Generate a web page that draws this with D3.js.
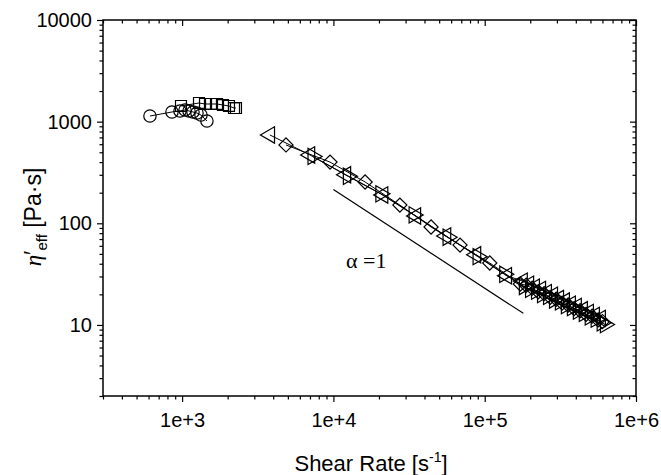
<!DOCTYPE html>
<html>
<head>
<meta charset="utf-8">
<script src="https://cdn.jsdelivr.net/npm/d3@7"></script>
<style>
  html, body { margin: 0; padding: 0; background: #fff; }
  svg { display: block; }
  text { font-family: "Liberation Sans", Arial, sans-serif; fill: #000; }
</style>
</head>
<body>
<svg id="chart" width="661" height="475"></svg>
<script>
// Axis ticks and labels
const xMajorTicks = [1e3, 1e4, 1e5, 1e6];
const xTickLabels = ["1e+3", "1e+4", "1e+5", "1e+6"];
const yMajorTicks = [10, 100, 1000, 10000];
const yTickLabels = ["10", "100", "1000", "10000"];

// Low-rate series: circles
const circleX = [613, 857, 968, 1045, 1110, 1180, 1254, 1333, 1459];
const circleY = [1136, 1245, 1274, 1303, 1274, 1245, 1216, 1161, 1015];

// Low-rate series: squares
const squareX = [983, 1293, 1417, 1552, 1701, 1862, 2041, 2203, 2270];
const squareY = [1426, 1526, 1492, 1492, 1492, 1458, 1426, 1362, 1362];

// High-rate series: left-pointing triangles
const leftTriX = [3800, 7000, 12100, 21300, 35100, 55500, 87600, 140000, 178000, 196000, 214000, 235000, 257000, 282000, 309000, 338000, 370000, 405000, 444000, 487000, 533000, 584000];
const leftTriY = [740, 470, 300, 190, 118, 75, 49, 30.5, 27, 25.2, 23.5, 22.4, 20.8, 19.6, 18.2, 17.2, 16, 15.2, 14.1, 13.3, 12.4, 11.6];

// High-rate series: diamonds
const diamondX = [4860, 9500, 16200, 27500, 44200, 68700, 108000, 172000, 188000, 206000, 226000, 247000, 271000, 297000, 325000, 356000, 390000, 427000, 468000, 513000, 562000, 600000];
const diamondY = [590, 400, 255, 151, 92, 61, 40.7, 25.3, 24.6, 23.0, 21.2, 20.3, 18.7, 17.9, 16.4, 15.7, 14.5, 13.8, 12.7, 12.2, 11.2, 10.8];

// High-rate series: right-pointing triangles
const rightTriX = [7300, 12500, 20500, 34000, 57000, 90000, 135000, 182000, 200000, 219000, 240000, 263000, 288000, 315000, 345000, 378000, 414000, 453000, 496000, 543000, 595000, 625000];
const rightTriY = [455, 290, 195, 121, 73, 47, 31.5, 23.9, 22.4, 21.5, 19.9, 19.1, 17.6, 16.9, 15.5, 14.8, 13.7, 13.0, 12.0, 11.4, 10.5, 10.1];

// Slope -1 guide line
const guideX = [1e4, 1.8e5];
const guideY = [215, 13];
const guideLabel = "α =1";

const svg = d3.select("#chart");
const margin = { left: 103, right: 25, top: 20, bottom: 79 };
const W = 661, H = 475;
const x = d3.scaleLog().domain([300, 1e6]).range([margin.left, W - margin.right]);
const y = d3.scaleLog().domain([2, 10000]).range([H - margin.bottom, margin.top]);

const xAll = x.ticks();
const yAll = y.ticks();
const majorIndex = (list, v) => list.findIndex(m => Math.abs(m - v) / m < 1e-9);

// Frame
svg.append("rect")
  .attr("x", margin.left).attr("y", margin.top)
  .attr("width", W - margin.left - margin.right)
  .attr("height", H - margin.top - margin.bottom)
  .attr("fill", "none").attr("stroke", "#000").attr("stroke-width", 1.5);

function styleAxis(g) {
  g.select(".domain").remove();
  g.selectAll(".tick line").attr("stroke", "#000").attr("stroke-width", 1.2);
}

// Bottom axis (outward ticks, labelled majors)
const gx = svg.append("g").attr("transform", `translate(0,${H - margin.bottom})`)
  .call(d3.axisBottom(x).tickValues(xAll).tickSize(0).tickPadding(17)
    .tickFormat(v => { const i = majorIndex(xMajorTicks, v); return i >= 0 ? xTickLabels[i] : ""; }));
styleAxis(gx);
gx.selectAll(".tick line").attr("y2", d => majorIndex(xMajorTicks, d) >= 0 ? 6 : 3.5);
gx.selectAll(".tick text").style("font-size", "20px");

// Left axis (outward ticks, labelled majors)
const gy = svg.append("g").attr("transform", `translate(${margin.left},0)`)
  .call(d3.axisLeft(y).tickValues(yAll).tickSize(0).tickPadding(11)
    .tickFormat(v => { const i = majorIndex(yMajorTicks, v); return i >= 0 ? yTickLabels[i] : ""; }));
styleAxis(gy);
gy.selectAll(".tick line").attr("x2", d => majorIndex(yMajorTicks, d) >= 0 ? -6 : -3.5);
gy.selectAll(".tick text").style("font-size", "20px");

// Top and right axes (inward ticks, no labels)
const gt = svg.append("g").attr("transform", `translate(0,${margin.top})`)
  .call(d3.axisTop(x).tickValues(xAll).tickSize(0).tickFormat(""));
styleAxis(gt);
gt.selectAll(".tick line").attr("y2", d => majorIndex(xMajorTicks, d) >= 0 ? 6 : 3.5);

const gr = svg.append("g").attr("transform", `translate(${W - margin.right},0)`)
  .call(d3.axisRight(y).tickValues(yAll).tickSize(0).tickFormat(""));
styleAxis(gr);
gr.selectAll(".tick line").attr("x2", d => majorIndex(yMajorTicks, d) >= 0 ? -6 : -3.5);

// Axis titles
svg.append("text")
  .attr("x", 371).attr("y", 471)
  .attr("text-anchor", "middle").style("font-size", "22px")
  .call(t => {
    t.append("tspan").text("Shear Rate [s");
    t.append("tspan").attr("dy", -9).style("font-size", "14px").text("-1");
    t.append("tspan").attr("dy", 9).text("]");
  });

svg.append("text")
  .attr("transform", "translate(41,217) rotate(-90)")
  .attr("text-anchor", "middle").style("font-size", "23px")
  .call(t => {
    t.append("tspan").style("font-style", "italic").style("font-family", "'Liberation Serif', serif").text("η");
    t.append("tspan").text("′");
    t.append("tspan").attr("dy", 6).style("font-size", "15px").text("eff");
    t.append("tspan").attr("dy", -6).text(" [Pa·s]");
  });

// Plot content
const plot = svg.append("g");
const line = d3.line().x(d => x(d[0])).y(d => y(d[1]));
const zip = (xs, ys) => xs.map((v, i) => [v, ys[i]]);

// Guide line and label
plot.append("path").datum(zip(guideX, guideY))
  .attr("d", line).attr("fill", "none").attr("stroke", "#000").attr("stroke-width", 1.2);
svg.append("text").attr("x", 346).attr("y", 268)
  .style("font-family", "'Liberation Serif', serif").style("font-size", "22px")
  .text(guideLabel);

const series = [
  { pts: zip(circleX, circleY), type: d3.symbolCircle, size: 120, rot: 0 },
  { pts: zip(squareX, squareY), type: d3.symbolSquare, size: 120, rot: 0 },
  { pts: zip(diamondX, diamondY), type: d3.symbolSquare, size: 100, rot: 45 },
  { pts: zip(rightTriX, rightTriY), type: d3.symbolTriangle, size: 115, rot: 90 },
  { pts: zip(leftTriX, leftTriY), type: d3.symbolTriangle, size: 115, rot: -90 }
];

series.forEach(s => {
  plot.append("path").datum(s.pts)
    .attr("d", line).attr("fill", "none").attr("stroke", "#000").attr("stroke-width", 1);
  plot.selectAll(null).data(s.pts).enter().append("path")
    .attr("d", d3.symbol().type(s.type).size(s.size))
    .attr("transform", d => `translate(${x(d[0])},${y(d[1])}) rotate(${s.rot})`)
    .attr("fill", "none").attr("stroke", "#000").attr("stroke-width", 1.2);
});
</script>
</body>
</html>
